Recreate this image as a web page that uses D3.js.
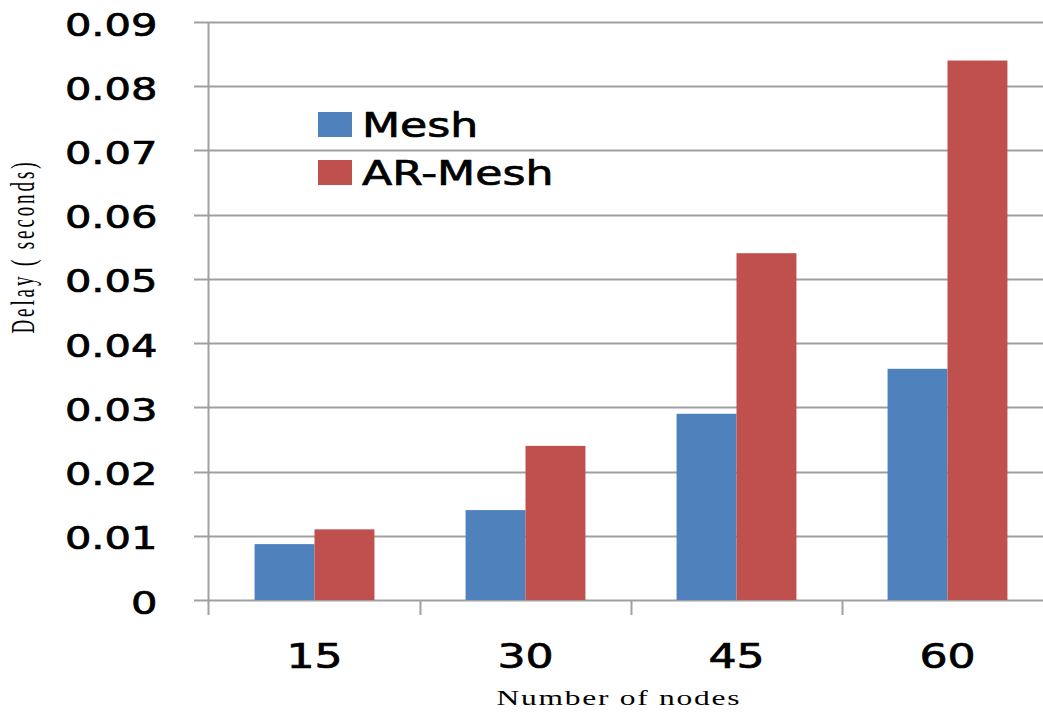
<!DOCTYPE html>
<html>
<head>
<meta charset="utf-8">
<script src="https://cdn.jsdelivr.net/npm/d3@7"></script>
<style>
  html, body { margin: 0; padding: 0; background: #fff; }
  svg { display: block; }
</style>
</head>
<body>
<svg id="chart" width="1043" height="713"></svg>
<script>
// Delay per node count for the two routing schemes
const nodeCounts = ["15", "30", "45", "60"];
const seriesNames = ["Mesh", "AR-Mesh"];
const meshDelay = [0.0087, 0.014, 0.029, 0.036];
const arMeshDelay = [0.011, 0.024, 0.054, 0.084];
const yTicks = [0, 0.01, 0.02, 0.03, 0.04, 0.05, 0.06, 0.07, 0.08, 0.09];
const seriesColors = ["#4F81BD", "#C0504D"];

const svg = d3.select("#chart");
const W = 1043;
const plotLeft = 209, plotRight = 1053, plotTop = 22, plotBottom = 600;
const stretch = 1.3; // horizontal widening of the labels

const x = d3.scaleBand().domain(nodeCounts).range([plotLeft, plotRight]).padding(0);
const xInner = d3.scaleBand().domain(seriesNames)
  .range([x.bandwidth() * 0.216, x.bandwidth() * 0.784]).padding(0);
const y = d3.scaleLinear().domain([0, 0.09]).range([plotBottom, plotTop]);

const grey = "#a0a0a0";

// horizontal gridlines (start at the tick stub, run to the right edge)
svg.append("g").selectAll("line").data(yTicks).join("line")
  .attr("x1", plotLeft - 15).attr("x2", W)
  .attr("y1", d => Math.round(y(d)) + 0.5).attr("y2", d => Math.round(y(d)) + 0.5)
  .attr("stroke", grey).attr("stroke-width", 2);

// bars
const rows = nodeCounts.map((c, i) => ({ c, vals: [meshDelay[i], arMeshDelay[i]] }));
svg.append("g").selectAll("g").data(rows).join("g")
  .attr("transform", d => `translate(${x(d.c)},0)`)
  .selectAll("rect").data(d => d.vals.map((v, j) => ({ v, name: seriesNames[j], j })))
  .join("rect")
  .attr("x", d => xInner(d.name))
  .attr("width", xInner.bandwidth())
  .attr("y", d => y(d.v))
  .attr("height", d => y(0) - y(d.v))
  .attr("fill", d => seriesColors[d.j]);

const labelFont = "'DejaVu Sans', Verdana, sans-serif";

// y axis
const yAxis = d3.axisLeft(y).tickValues(yTicks).tickSize(15).tickPadding(0)
  .tickFormat(d => d === 0 ? "0" : d3.format(".2f")(d));
const gy = svg.append("g").attr("transform", `translate(${plotLeft - 0.5},0)`).call(yAxis);
gy.select(".domain").remove();
gy.selectAll(".tick line").remove();
gy.append("line").attr("x1", 0).attr("x2", 0)
  .attr("y1", plotTop).attr("y2", plotBottom + 15)
  .attr("stroke", grey).attr("stroke-width", 2);
gy.selectAll(".tick text")
  .attr("font-family", labelFont)
  .attr("font-size", 32)
  .attr("fill", "#000")
  .attr("stroke", "#000").attr("stroke-width", 0.7)
  .attr("text-anchor", "end")
  .attr("dy", null)
  .attr("y", 13)
  .attr("x", -51 / stretch)
  .attr("transform", `scale(${stretch},1)`);

// x axis
const xAxis = d3.axisBottom(x).tickSize(0).tickPadding(0);
const gx = svg.append("g").attr("transform", `translate(0,${plotBottom})`).call(xAxis);
gx.select(".domain").remove();
gx.selectAll(".tick text")
  .attr("font-family", labelFont)
  .attr("font-size", 34)
  .attr("fill", "#000")
  .attr("stroke", "#000").attr("stroke-width", 0.7)
  .attr("dy", null)
  .attr("y", 68)
  .attr("x", 0)
  .attr("transform", `scale(${stretch},1)`)
  .attr("text-anchor", "middle");
// category boundary ticks
svg.append("g").selectAll("line").data(nodeCounts.slice(1)).join("line")
  .attr("x1", d => x(d) + 0.5).attr("x2", d => x(d) + 0.5)
  .attr("y1", plotBottom).attr("y2", plotBottom + 15)
  .attr("stroke", grey).attr("stroke-width", 2);

// legend
const legend = svg.append("g");
const legendRows = [{ name: seriesNames[0], color: seriesColors[0], base: 137 },
                    { name: seriesNames[1], color: seriesColors[1], base: 185 }];
legend.selectAll("rect").data(legendRows).join("rect")
  .attr("x", 318).attr("y", d => d.base - 25)
  .attr("width", 34).attr("height", 25)
  .attr("fill", d => d.color);
legend.selectAll("text").data(legendRows).join("text")
  .attr("x", 362 / stretch).attr("y", d => d.base)
  .attr("transform", `scale(${stretch},1)`)
  .attr("font-family", labelFont)
  .attr("font-size", 34)
  .attr("fill", "#000")
  .attr("stroke", "#000").attr("stroke-width", 0.7)
  .text(d => d.name);

// axis titles
svg.append("text")
  .attr("transform", "translate(34,248) scale(1.75,1) rotate(-90)")
  .attr("text-anchor", "middle")
  .attr("font-family", "'Liberation Serif', 'Times New Roman', serif")
  .attr("font-size", 19)
  .attr("textLength", 171)
  .attr("lengthAdjust", "spacing")
  .attr("fill", "#000")
  .text("Delay ( seconds)");

svg.append("text")
  .attr("transform", "translate(618,705) scale(1.5,1)")
  .attr("text-anchor", "middle")
  .attr("font-family", "'Liberation Serif', 'Times New Roman', serif")
  .attr("font-size", 21)
  .attr("textLength", 243 / 1.5)
  .attr("lengthAdjust", "spacing")
  .attr("fill", "#000")
  .text("Number of nodes");
</script>
</body>
</html>
